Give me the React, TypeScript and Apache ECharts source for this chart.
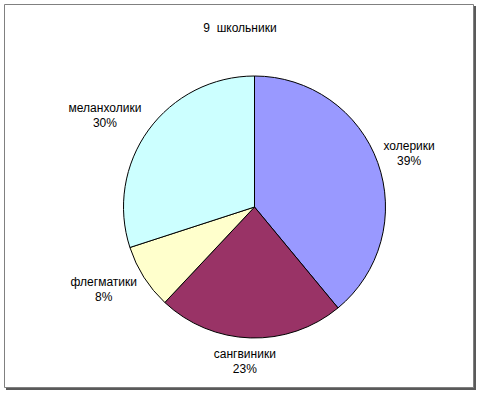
import React, { useEffect, useRef } from "react";
import * as echarts from "echarts";

const TITLE = "9  школьники";
const categories = ["холерики", "сангвиники", "флегматики", "меланхолики"];
const values = [39, 23, 8, 30];
const colors = ["#9999FF", "#993366", "#FFFFCC", "#CCFFFF"];

const CX = 254.5;
const CY = 207;
const R = 131;
const GAP = 2;
// small per-label nudges (layout only)
const nudgeX = [2, -5, -8, -11];
const nudgeY = [1, 6, -8, 9];

export default function App() {
  const ref = useRef<HTMLDivElement>(null);
  useEffect(() => {
    if (!ref.current) return;
    const chart = echarts.init(ref.current, null, { renderer: "svg" });
    chart.setOption({
      animation: false,
      backgroundColor: "#ffffff",
      title: {
        text: TITLE,
        left: "center",
        top: 17,
        textStyle: {
          fontFamily: "Liberation Sans, Arial, sans-serif",
          fontSize: 12,
          fontWeight: "normal",
          color: "#000",
        },
      },
      graphic: [
        {
          type: "rect",
          z: -10,
          silent: true,
          shape: { x: 6, y: 6, width: 470, height: 384 },
          style: { fill: "#5a5a5a" },
        },
        {
          type: "rect",
          z: -9,
          silent: true,
          shape: { x: 4.5, y: 4.5, width: 469, height: 383 },
          style: { fill: "#ffffff", stroke: "#808080", lineWidth: 1 },
        },
      ],
      series: [
        {
          type: "pie",
          center: [CX, CY],
          radius: R,
          startAngle: 90,
          clockwise: true,
          avoidLabelOverlap: false,
          data: categories.map((c, i) => ({
            name: c,
            value: values[i],
            itemStyle: { color: colors[i] },
          })),
          itemStyle: { borderColor: "#000", borderWidth: 1 },
          label: {
            show: true,
            position: "outside",
            formatter: "{b}\n{d}%",
            fontFamily: "Liberation Sans, Arial, sans-serif",
            fontSize: 12,
            lineHeight: 15,
            color: "#000",
          },
          labelLine: { show: false, length: 0, length2: 0 },
          emphasis: { disabled: true },
          labelLayout: (params: any) => {
            const pts = params.labelLinePoints;
            if (!pts) return {};
            const dx = (pts[0][0] - CX) / R;
            const dy = (pts[0][1] - CY) / R;
            const w = params.labelRect.width;
            const h = params.labelRect.height;
            const ext = (Math.abs(dx) * w) / 2 + (Math.abs(dy) * h) / 2;
            const d = R + ext + GAP;
            const i = params.dataIndex;
            return {
              x: CX + dx * d + nudgeX[i],
              y: CY + dy * d + nudgeY[i],
              align: "center",
              verticalAlign: "middle",
            };
          },
        },
      ],
    });
    return () => chart.dispose();
  }, []);
  return (
    <div
      ref={ref}
      style={{ position: "fixed", left: 0, top: 0, width: 480, height: 393 }}
    />
  );
}
